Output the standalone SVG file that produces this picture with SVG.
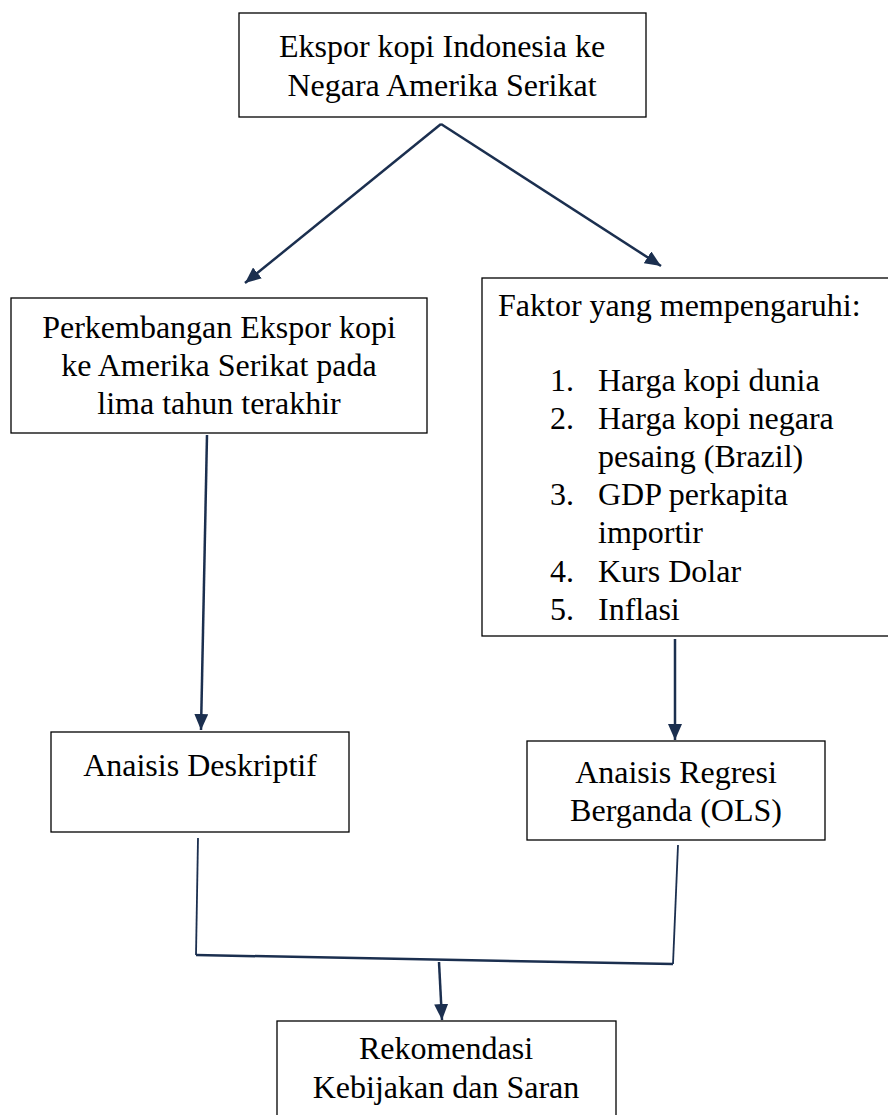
<svg xmlns="http://www.w3.org/2000/svg" width="888" height="1115" viewBox="0 0 888 1115">
<style>
.box{fill:#fff;stroke:#000;stroke-width:1.3}
.t{font-family:"Liberation Serif","Times New Roman",serif;font-size:32px;fill:#000}
.c{text-anchor:middle}
.con{stroke:#1b2f4f;fill:none;stroke-width:2.5}
.thin{stroke:#1b2f4f;fill:none;stroke-width:1.8}
</style>
<defs>
<marker id="ah" viewBox="0 0 16 14" refX="16" refY="7" markerWidth="16" markerHeight="14" orient="auto" markerUnits="userSpaceOnUse">
<path d="M0,0 L16,7 L0,14 z" fill="#1b2f4f"/>
</marker>
</defs>
<rect width="888" height="1115" fill="#fff"/>
<g id="connectors">
<line class="con" x1="441" y1="124" x2="245" y2="283" marker-end="url(#ah)"/>
<line class="con" x1="441" y1="124" x2="661" y2="266" marker-end="url(#ah)"/>
<line class="con" x1="207" y1="435" x2="201" y2="730" marker-end="url(#ah)"/>
<line class="con" x1="675" y1="639" x2="675" y2="740" marker-end="url(#ah)"/>
<line class="thin" x1="198" y1="838" x2="196" y2="955"/>
<line class="thin" x1="678" y1="845" x2="673" y2="964"/>
<line class="con" x1="196" y1="955" x2="673" y2="964"/>
<line class="con" x1="439" y1="962" x2="442" y2="1020" marker-end="url(#ah)"/>
</g>
<g id="node-ekspor">
<rect class="box" x="239" y="13" width="407" height="104"/>
<text class="t c" x="442" y="57">Ekspor kopi Indonesia ke</text>
<text class="t c" x="442" y="96">Negara Amerika Serikat</text>
</g>
<g id="node-perkembangan">
<rect class="box" x="11" y="298" width="416" height="135"/>
<text class="t c" x="219" y="338">Perkembangan Ekspor kopi</text>
<text class="t c" x="219" y="376">ke Amerika Serikat pada</text>
<text class="t c" x="219" y="414">lima tahun terakhir</text>
</g>
<g id="node-faktor">
<rect class="box" x="482" y="278" width="420" height="358"/>
<text class="t" x="498" y="316">Faktor yang mempengaruhi:</text>
<text class="t" x="550" y="391">1.</text><text class="t" x="598" y="391">Harga kopi dunia</text>
<text class="t" x="550" y="429">2.</text><text class="t" x="598" y="429">Harga kopi negara</text>
<text class="t" x="598" y="467">pesaing (Brazil)</text>
<text class="t" x="550" y="505">3.</text><text class="t" x="598" y="505">GDP perkapita</text>
<text class="t" x="598" y="543">importir</text>
<text class="t" x="550" y="582">4.</text><text class="t" x="598" y="582">Kurs Dolar</text>
<text class="t" x="550" y="620">5.</text><text class="t" x="598" y="620">Inflasi</text>
</g>
<g id="node-deskriptif">
<rect class="box" x="51" y="732" width="298" height="100"/>
<text class="t c" x="200" y="776">Anaisis Deskriptif</text>
</g>
<g id="node-regresi">
<rect class="box" x="527" y="741" width="298" height="99"/>
<text class="t c" x="676" y="783">Anaisis Regresi</text>
<text class="t c" x="676" y="821">Berganda (OLS)</text>
</g>
<g id="node-rekomendasi">
<rect class="box" x="277" y="1021" width="339" height="110"/>
<text class="t c" x="446" y="1059">Rekomendasi</text>
<text class="t c" x="446" y="1098">Kebijakan dan Saran</text>
</g>
</svg>
